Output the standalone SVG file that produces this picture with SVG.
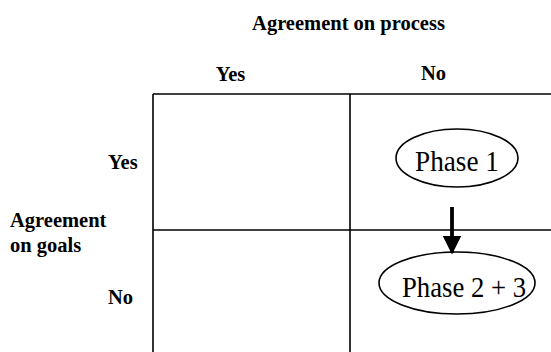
<svg xmlns="http://www.w3.org/2000/svg" width="551" height="352" viewBox="0 0 551 352">
  <defs>
    <style>
      .lbl { font-family: "Liberation Serif", "Times New Roman", serif; font-weight: bold; font-size: 20.5px; fill: #000; }
      .grid { stroke: #000; stroke-width: 1.6; fill: none; }
      .node ellipse { fill: #fff; stroke: #000; stroke-width: 1.6; }
      .node text { font-family: "Liberation Serif", "Times New Roman", serif; font-size: 29px; fill: #000; text-anchor: middle; }
    </style>
    <marker id="head" markerWidth="5" markerHeight="5" refX="4.6" refY="2.5" orient="auto" markerUnits="strokeWidth">
      <path d="M0,0 L5,2.5 L0,5 Z" fill="#000"/>
    </marker>
  </defs>
  <rect width="551" height="352" fill="#fff"/>

  <!-- axis labels -->
  <text class="lbl" x="348.5" y="30" text-anchor="middle">Agreement on process</text>
  <text class="lbl" x="230.5" y="81" text-anchor="middle">Yes</text>
  <text class="lbl" x="433.5" y="80" text-anchor="middle">No</text>
  <text class="lbl" x="108" y="169">Yes</text>
  <text class="lbl" x="10" y="227">Agreement</text>
  <text class="lbl" x="10" y="252">on goals</text>
  <text class="lbl" x="108" y="304">No</text>

  <!-- 2x2 grid -->
  <g id="grid">
    <path class="grid" d="M153,94 H560 M153,94 V360 M350,94 V360 M153,230 H560"/>
  </g>

  <!-- nodes -->
  <g id="phase1" class="node">
    <ellipse cx="457" cy="158" rx="61" ry="29"/>
    <text x="457" y="171" textLength="84" lengthAdjust="spacingAndGlyphs">Phase 1</text>
  </g>
  <g id="phase23" class="node">
    <ellipse cx="457" cy="283" rx="78" ry="31"/>
    <text x="464" y="297" textLength="124" lengthAdjust="spacingAndGlyphs">Phase 2 + 3</text>
  </g>

  <!-- connectors -->
  <g id="connectors">
    <line x1="452" y1="207" x2="452" y2="253" stroke="#000" stroke-width="3.8" marker-end="url(#head)"/>
  </g>
</svg>
